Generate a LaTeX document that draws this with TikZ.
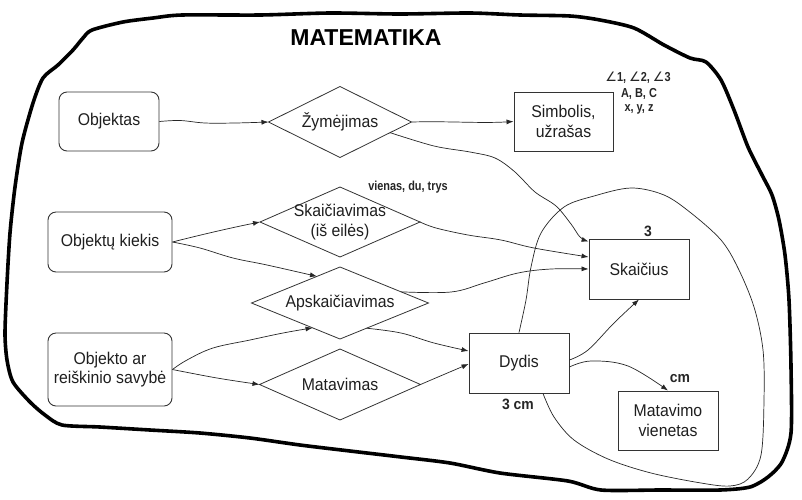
\documentclass[tikz,border=0pt]{standalone}
\usepackage{fontspec}
\setmainfont{Liberation Sans}
\newfontfamily\symf{DejaVu Sans}
\newfontfamily\lblf{Liberation Sans}[FakeStretch=0.93]
\newfontfamily\condf{Liberation Sans}[FakeStretch=0.84]
\usetikzlibrary{shapes.geometric,arrows.meta,calc}
\tikzset{
  lbl/.style={font=\lblf\fontsize{17}{19.3}\selectfont, align=center, text=black!88},
  rbox/.style={draw=black!80, line width=0.9pt, rounded corners=8pt, inner sep=0pt},
  sbox/.style={draw=black!80, line width=0.9pt, inner sep=0pt},
  dia/.style={draw=black!80, line width=0.8pt, diamond, inner sep=0pt, outer sep=0pt},
  arr/.style={line width=0.7pt, draw=black!85, -{Latex[length=7pt,width=5pt]}},
  note/.style={font=\condf\bfseries\fontsize{13}{15}\selectfont, text=black!85},
  bignote/.style={font=\lblf\bfseries\fontsize{15}{17}\selectfont, text=black!85},
}
\begin{document}
\begin{tikzpicture}[x=1pt,y=-1pt]
\fill[white] (0,0) rectangle (802,499);
\useasboundingbox (0,0) rectangle (802,499);

% outer hand-drawn blob
\draw[line width=3.6pt, line join=round, black] plot[smooth cycle, tension=0.45] coordinates {
(153,18) (182,15) (260,15) (330,13) (400,14) (470,13) (520,15) (570,16) (600,20) (634,28)
(664,45) (690,58) (706,62) (721,80) (734,110) (748,147) (762,175) (772,195) (779,220)
(785,255) (789,300) (791,367) (791,433) (782,462) (768,477) (750,487) (720,490) (660,490)
(601,490) (568,481) (500,473) (450,463) (401,457) (350,451) (300,445) (250,438) (200,433)
(150,430) (100,427) (62,425) (45,415) (30,402) (13,382) (7,360) (5,333) (7,283) (10,233)
(15,187) (22,143) (33,103) (43,78) (58,65) (73,50) (83,38) (92,30) (123,22)};

% title
\node[font=\bfseries\fontsize{23}{26}\selectfont] (title) at (366,38) {MATEMATIKA};

% boxes
\node[rbox, minimum width=100pt, minimum height=59pt] (obj) at (109,121.5) {};
\node[lbl] at (obj) {Objektas};
\node[rbox, minimum width=124pt, minimum height=60pt] (kiek) at (110,242) {};
\node[lbl] at (kiek) {Objektų kiekis};
\node[rbox, minimum width=124pt, minimum height=73pt] (sav) at (110,369.5) {};
\node[lbl] at (sav) {Objekto ar\\reiškinio savybė};

\node[sbox, minimum width=99pt, minimum height=59pt] (simb) at (563.5,121.5) {};
\node[lbl] at (simb) {Simbolis,\\užrašas};
\node[sbox, minimum width=100pt, minimum height=60pt] (skai) at (639,269) {};
\node[lbl] at (skai) {Skaičius};
\node[sbox, minimum width=100pt, minimum height=60pt] (dyd) at (519,363) {};
\node[lbl] at (dyd) {Dydis};
\node[sbox, minimum width=100pt, minimum height=59pt] (matv) at (668,420.5) {};
\node[lbl] at (matv) {Matavimo\\vienetas};

% diamonds
\node[dia, minimum width=143pt, minimum height=71pt] (zym) at (340,122) {};
\node[lbl] at (zym) {Žymėjimas};
\node[dia, minimum width=160pt, minimum height=70pt] (skv) at (340,222) {};
\node[lbl] at (skv) {Skaičiavimas\\(iš eilės)};
\node[dia, minimum width=177pt, minimum height=72pt] (aps) at (340,303) {};
\node[lbl] at (aps) {Apskaičiavimas};
\node[dia, minimum width=161pt, minimum height=71pt] (mat) at (340,384.5) {};
\node[lbl] at (mat) {Matavimas};

% annotations
\node[note] (a1) at (638,78) {{\symf\mdseries ∠}1, {\symf\mdseries ∠}2, {\symf\mdseries ∠}3};
\node[note] (a2) at (639,94) {A, B, C};
\node[note] (a3) at (639,109) {x, y, z};
\node[note] (vdt) at (408,187) {vienas, du, trys};
\node[bignote] (three) at (648,231) {3};
\node[bignote] (cm) at (680,379) {cm};
\node[bignote] (tcm) at (518,404) {3 cm};

% helper points
\coordinate (zymSE) at ($(zym.east)!0.3!(zym.south)$);
\coordinate (apsNW) at ($(aps.west)!0.74!(aps.north)$);
\coordinate (apsNE) at ($(aps.north)!0.69!(aps.east)$);
\coordinate (apsSW) at ($(aps.west)!0.69!(aps.south)$);
\coordinate (apsSE) at ($(aps.south)!0.3!(aps.east)$);

% connectors
\draw[arr] plot[smooth, tension=0.6] coordinates {(obj.east) (180,120.5) (205,123) (235,123) (zym.west)};
\draw[arr] (zym.east) .. controls (450,121) and (480,123.5) .. (simb.west);
\draw[arr] plot[smooth, tension=0.55] coordinates {(zymSE) (434,146) (470,152) (495,158) (515,172) (535,192) (556,206) (571,224) (580,237) ($(skai.north west)+(0,3)$)};
\draw[arr] (kiek.east) .. controls (200,235) and (230,228) .. (skv.west);
\draw[arr] plot[smooth, tension=0.6] coordinates {(kiek.east) (200,248) (233,258) (267,265) (apsNW)};
\draw[arr] plot[smooth, tension=0.6] coordinates {(skv.east) (436,228) (468,235) (501,240) (534,248) ($(skai.west)+(0,-12)$)};
\draw[arr] plot[smooth, tension=0.6] coordinates {(apsNE) (451,292) (484,283) (518,273) (551,269) (skai.west)};
\draw[arr] plot[smooth, tension=0.6] coordinates {(sav.east) (187,360) (213,348) (250,340) (283,333) (apsSW)};
\draw[arr] plot[smooth, tension=0.6] coordinates {(sav.east) (217,378) (mat.west)};
\draw[arr] plot[smooth, tension=0.6] coordinates {(apsSE) (401,333) (434,343) ($(dyd.west)+(0,-12)$)};
\draw[arr] plot[smooth, tension=0.6] coordinates {(mat.east) (438,377) ($(dyd.west)+(0,1)$)};
\draw[arr] plot[smooth, tension=0.6] coordinates {($(dyd.east)+(0,-3)$) (588,350) (614,323) (skai.south)};
\draw[arr] plot[smooth, tension=0.6] coordinates {($(dyd.east)+(0,4)$) (591,361) (628,366) (matv.north)};

% loop around Dydis, Skaičius, Matavimo vienetas
\draw[line width=0.7pt, black!85] plot[smooth, tension=0.55] coordinates {(dyd.north) (526,300) (531,267) (541,233) (564,207) (594,196) (631,188) (664,195) (691,213) (721,240) (738,268) (754,307) (763,350) (764,400) (761,455) (748,479) (730,486) (701,483) (651,473) (608,459) (574,440) (554,417) ($(dyd.south)+(24,0)$)};
\end{tikzpicture}
\end{document}
